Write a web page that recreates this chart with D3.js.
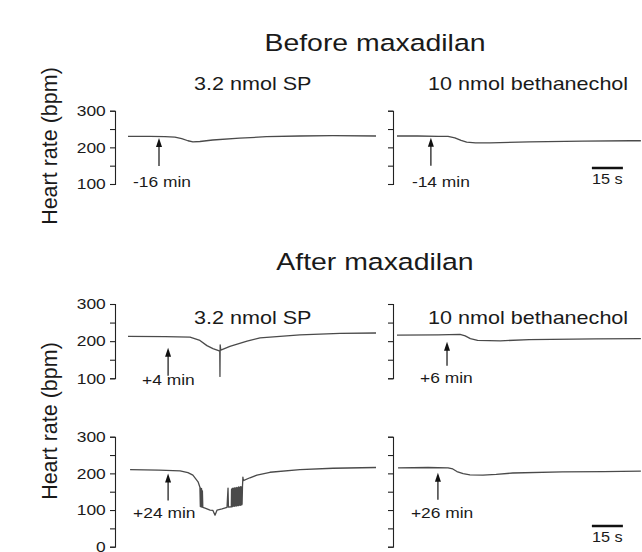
<!DOCTYPE html>
<html>
<head>
<meta charset="utf-8">
<script src="https://cdn.jsdelivr.net/npm/d3@7"></script>
<style>
  body { margin: 0; background: #fff; }
  svg { display: block; }
  text { font-family: "Liberation Sans", Arial, sans-serif; fill: #1a1a1a; }
</style>
</head>
<body>
<svg id="chart" width="642" height="552"></svg>
<script>
// ---- data ----
const rowTitles = ["Before maxadilan", "After maxadilan"];
const drugLabels = ["3.2 nmol SP", "10 nmol bethanechol"];
const timeLabels = ["-16 min", "-14 min", "+4 min", "+6 min", "+24 min", "+26 min"];
const injectTimes = [15, 16.4, 19.4, 24.2, 19.4, 19.8]; // s into each trace
const yTicksShort = [100, 150, 200, 250, 300];
const yTicksFull = [0, 50, 100, 150, 200, 250, 300];
const yTickLabels = [0, 100, 200, 300];
const scaleBarSec = 15;

// heart rate traces: time (s) / bpm
const beforeSP_t = [0, 10.6, 17.9, 22.7, 26, 29, 31.4, 34.8, 41, 54, 67, 83, 99, 120];
const beforeSP_v = [230, 230, 229, 228, 224, 218, 215, 216, 220, 225, 229, 231, 232, 231];

const beforeBeth_t = [0, 10, 20, 24.7, 28, 31, 33.7, 38, 45, 64, 90, 113, 118];
const beforeBeth_v = [231, 231, 230, 230, 226, 219, 214, 212, 212, 215, 217, 218, 218];

const afterSP4_t = [0, 18, 30, 34.8, 38.2, 41.1, 43.5, 44.4, 44.5, 44.6, 44.9, 49.3, 57.6, 63.9, 83.2, 102.6, 120];
const afterSP4_v = [213, 212, 211, 202, 188, 180, 175, 173, 105, 190, 176, 186, 200, 209, 217, 221, 222];

const afterBeth6_t = [0, 20, 30.5, 33, 35.5, 39, 50, 64, 96, 118];
const afterBeth6_v = [216, 217, 218, 214, 207, 202, 201, 204, 206, 207];

// +24 min SP trace, including the arrhythmic burst around 35 s and 48-55 s
const afterSP24_t = [1, 15, 25.2, 29, 31.4, 33.9, 34.8, 35.0, 35.2, 35.4, 35.6, 35.8, 36.0, 36.2,
  37.3, 39.7, 41.1, 42.1, 43.1, 45.5, 47.9, 48.4, 48.6, 50.0,
  50.1, 50.2, 50.3, 50.4, 50.5, 50.6, 50.7, 50.8, 50.9, 51.0, 51.1, 51.2, 51.3,
  51.4, 51.5, 51.6, 51.7, 51.8, 51.9, 52.0, 52.1, 52.2, 52.3, 52.4, 52.5, 52.6,
  52.7, 52.8, 52.9, 53.0, 53.1, 53.2, 53.3, 53.4, 53.5, 53.6, 53.7, 53.8, 53.9,
  54.0, 54.1, 54.2, 54.3, 54.4, 54.5, 54.6, 54.7, 54.8, 54.9, 55.0, 55.1, 55.2,
  55.4, 55.6, 55.8, 59, 62.4, 68.7, 83.2, 99.2, 120];
const afterSP24_v = [210, 209, 207, 202, 195, 177, 162, 110, 160, 108, 158, 109, 152, 107,
  105, 100, 99, 86, 100, 103, 107, 160, 108, 109,
  156, 110, 158, 109, 159, 111, 157, 110, 160, 112, 158, 111, 157,
  110, 159, 112, 161, 111, 158, 113, 160, 112, 159, 111, 161, 113, 162,
  112, 160, 114, 158, 113, 161, 112, 163, 114, 160, 113, 162, 115,
  161, 114, 163, 113, 164, 115, 162, 116, 163, 114, 164, 116,
  165, 190, 180, 188, 195, 203, 210, 214, 216];

const afterBeth26_t = [0.5, 15, 24.7, 27, 29, 32, 35.3, 41.6, 48, 56, 80, 100, 118];
const afterBeth26_v = [215, 216, 215, 212, 205, 199, 196, 195, 197, 201, 204, 205, 206];

// ---- layout ----
const svg = d3.select("#chart");
const stretch = 1.16;
const pxPerSec = 31 / 15;
const leftX0 = 128, rightX0 = 397;
const leftAxisX = 115, rightAxisX = 393;

const xLeft = d3.scaleLinear().domain([0, 120]).range([leftX0, leftX0 + 120 * pxPerSec]);
const xRight = d3.scaleLinear().domain([0, 120]).range([rightX0, rightX0 + 120 * pxPerSec]);

const rows = [
  { y: d3.scaleLinear().domain([100, 300]).range([184, 110.7]), ticks: yTicksShort },
  { y: d3.scaleLinear().domain([100, 300]).range([378.3, 304]), ticks: yTicksShort },
  { y: d3.scaleLinear().domain([0, 300]).range([546.7, 436.7]), ticks: yTicksFull }
];

const panels = [
  { row: 0, side: 0, t: beforeSP_t, v: beforeSP_v, gap: 1.5, len: 28, ldx: -26, ldy: 21 },
  { row: 0, side: 1, t: beforeBeth_t, v: beforeBeth_v, gap: 1.5, len: 28, ldx: -19, ldy: 21 },
  { row: 1, side: 0, t: afterSP4_t, v: afterSP4_v, gap: 11, len: 28, ldx: -26, ldy: 9 },
  { row: 1, side: 1, t: afterBeth6_t, v: afterBeth6_v, gap: 7, len: 24, ldx: -27, ldy: 17 },
  { row: 2, side: 0, t: afterSP24_t, v: afterSP24_v, gap: 3, len: 27, ldx: -35, ldy: 18 },
  { row: 2, side: 1, t: afterBeth26_t, v: afterBeth26_v, gap: 5, len: 27, ldx: -27, ldy: 18 }
];

function addText(x, y, str, size, anchor) {
  return svg.append("text")
    .attr("transform", `translate(${x},${y}) scale(${stretch},1)`)
    .attr("text-anchor", anchor || "start")
    .style("font-size", size + "px")
    .text(str);
}

// titles
addText(375, 51, rowTitles[0], 24.5, "middle");
addText(375, 270, rowTitles[1], 24.5, "middle");

// drug labels (top row and middle row)
[90, 324].forEach(by => {
  addText(194, by, drugLabels[0], 18.6);
  addText(428, by, drugLabels[1], 18.6);
});

// y labels
[146, 421].forEach(cy => {
  svg.append("text")
    .attr("transform", `translate(57,${cy}) rotate(-90)`)
    .attr("text-anchor", "middle")
    .style("font-size", "21.5px")
    .text("Heart rate (bpm)");
});

// axes
rows.forEach(r => {
  [leftAxisX, rightAxisX].forEach((ax, i) => {
    const axis = d3.axisLeft(r.y)
      .tickValues(r.ticks)
      .tickSize(5)
      .tickSizeOuter(5)
      .tickPadding(3)
      .tickFormat(d => i === 0 && yTickLabels.includes(d) ? d : "");
    const g = svg.append("g")
      .attr("transform", `translate(${ax},0)`)
      .call(axis);
    g.select(".domain").attr("stroke", "#222").attr("stroke-width", 1.1);
    g.selectAll(".tick line").attr("stroke", "#222").attr("stroke-width", 1.1);
    g.selectAll(".tick text")
      .attr("transform", `scale(${stretch},1)`)
      .style("font-size", "15px")
      .style("font-family", '"Liberation Sans", Arial, sans-serif')
      .attr("fill", "#1a1a1a");
  });
});

// traces, arrows, time labels
panels.forEach((p, i) => {
  const x = p.side === 0 ? xLeft : xRight;
  const y = rows[p.row].y;
  const pts = d3.zip(p.t, p.v);
  const line = d3.line().x(d => x(d[0])).y(d => y(d[1]));
  svg.append("path")
    .datum(pts)
    .attr("d", line)
    .attr("fill", "none")
    .attr("stroke", "#4a4a4a")
    .attr("stroke-width", 1.3)
    .attr("stroke-linejoin", "round");

  // arrow at injection time
  const ti = injectTimes[i];
  const vi = d3.scaleLinear().domain(p.t).range(p.v)(ti);
  const ax = x(ti);
  const tip = y(vi) + p.gap;
  const tail = tip + p.len;
  svg.append("line")
    .attr("x1", ax).attr("x2", ax)
    .attr("y1", tail).attr("y2", tip + 6)
    .attr("stroke", "#111").attr("stroke-width", 1.2);
  svg.append("path")
    .attr("d", `M${ax},${tip} L${ax - 3},${tip + 9} L${ax + 3},${tip + 9} Z`)
    .attr("fill", "#111");

  addText(ax + p.ldx, tail + p.ldy, timeLabels[i], 15);
});

// scale bars (top right and bottom right)
[[168, 184], [526, 542]].forEach(([sy, ty]) => {
  const x1 = xRight(94.3), x2 = xRight(94.3 + scaleBarSec);
  svg.append("line")
    .attr("x1", x1).attr("x2", x2)
    .attr("y1", sy).attr("y2", sy)
    .attr("stroke", "#111").attr("stroke-width", 2.5);
  addText((x1 + x2) / 2, ty, scaleBarSec + " s", 14, "middle");
});
</script>
</body>
</html>
